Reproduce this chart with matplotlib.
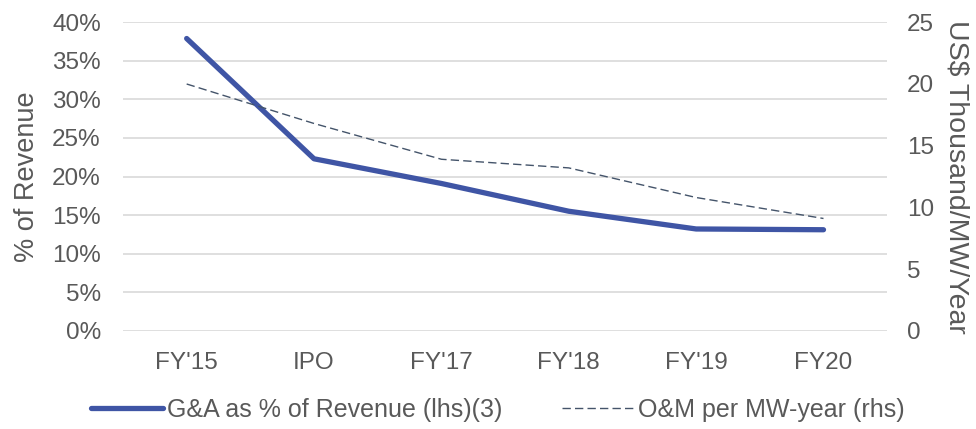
import matplotlib.pyplot as plt
from matplotlib.ticker import FuncFormatter

# Données
categories = ["FY'15", "IPO", "FY'17", "FY'18", "FY'19", "FY20"]
ga_pct = [37.9, 22.3, 19.1, 15.5, 13.2, 13.1]
om_per_mw = [20.0, 16.8, 13.9, 13.2, 10.8, 9.1]

plt.rcParams['font.family'] = ['Liberation Sans', 'DejaVu Sans']
text_color = "#595959"

fig = plt.figure(figsize=(9.76, 4.29), dpi=100)
ax = fig.add_axes([0.126, 0.229, 0.783, 0.719])
ax2 = ax.twinx()

x = range(len(categories))
l1, = ax.plot(x, ga_pct, color="#3F55A5", linewidth=3.8, solid_capstyle="round",
              label="G&A as % of Revenue (lhs)(3)")
l2, = ax2.plot(x, om_per_mw, color="#44546A", linewidth=1.0, linestyle=(0, (6, 3)),
               label="O&M per MW-year (rhs)")

ax.set_xlim(-0.5, len(categories) - 0.5)
ax.set_ylim(0, 40)
ax.set_yticks(range(0, 41, 5))
ax.yaxis.set_major_formatter(FuncFormatter(lambda v, p: "{:.0f}%".format(v)))
ax2.set_ylim(0, 25)
ax2.set_yticks(range(0, 26, 5))
ax.set_xticks(list(x))
ax.set_xticklabels(categories)

ax.grid(axis="y", color="#D9D9D9", linewidth=1.2)
ax.set_axisbelow(True)
for a in (ax, ax2):
    for s in a.spines.values():
        s.set_visible(False)
    a.tick_params(length=0, labelsize=17.5, colors=text_color)
ax.tick_params(axis="x", pad=15)
ax.tick_params(axis="y", pad=16)
ax2.tick_params(axis="y", pad=14)

ax.set_ylabel("% of Revenue", fontsize=19.5, color=text_color, labelpad=9)
ax2.set_ylabel("US$ Thousand/MW/Year", fontsize=20.5, color=text_color,
               rotation=270, labelpad=26)

fig.legend(handles=[l1, l2], loc="center", bbox_to_anchor=(0.51, 0.045), ncol=2,
           frameon=False, fontsize=18, handlelength=2.9, handletextpad=0.15,
           columnspacing=2.4, labelcolor=text_color)

plt.savefig("out.png")
